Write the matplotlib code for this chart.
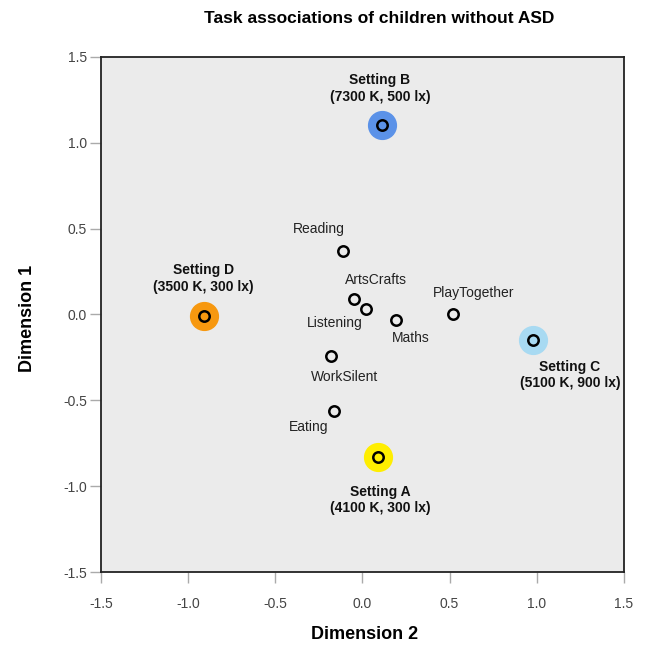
import numpy as np
import matplotlib.pyplot as plt

plt.rcParams['font.family'] = ['Liberation Sans', 'DejaVu Sans']

# task points (Dimension 2 on x, Dimension 1 on y)
tasks = ["Reading", "ArtsCrafts", "Listening", "Maths", "PlayTogether", "WorkSilent", "Eating"]
task_x = [-0.11, -0.05, 0.02, 0.19, 0.52, -0.18, -0.165]
task_y = [0.37, 0.09, 0.03, -0.03, 0.00, -0.24, -0.56]
task_lx = [-0.25, 0.08, -0.16, 0.28, 0.635, -0.10, -0.31]
task_ly = [0.50, 0.20, -0.05, -0.135, 0.125, -0.365, -0.655]

# lighting settings
settings = ["Setting A\n(4100 K, 300 lx)", "Setting B\n(7300 K, 500 lx)",
            "Setting C\n(5100 K, 900 lx)", "Setting D\n(3500 K, 300 lx)"]
set_x = [0.09, 0.11, 0.98, -0.91]
set_y = [-0.83, 1.10, -0.15, -0.01]
set_lx = [0.10, 0.10, 1.19, -0.91]
set_ly = [-1.08, 1.316, -0.353, 0.21]
set_col = ["#FFEE00", "#5B92E8", "#A8DAF2", "#F7980F"]

ticks = [-1.5, -1.0, -0.5, 0.0, 0.5, 1.0, 1.5]

fig = plt.figure(figsize=(6.46, 6.45), dpi=100)
ax = fig.add_axes([0.156, 0.113, 0.81, 0.799])
ax.set_facecolor("#EBEBEB")

for x, y, c in zip(set_x, set_y, set_col):
    ax.plot(x, y, 'o', ms=20, color=c, mec=c, zorder=2)
    ax.plot(x, y, 'o', ms=7.5, mfc=c, mec='black', mew=1.8, zorder=3)

ax.plot(task_x, task_y, 'o', ms=7.5, mfc='none', mec='black', mew=1.8, ls='none', zorder=3)

for t, x, y in zip(tasks, task_lx, task_ly):
    ax.text(x, y, t, ha='center', va='center', fontsize=10, color='#222222')
for t, x, y in zip(settings, set_lx, set_ly):
    ax.text(x, y, t, ha='center', va='center', fontsize=10, fontweight='bold',
            color='#111111', linespacing=1.25)

ax.set_xlim(-1.5, 1.5)
ax.set_ylim(-1.5, 1.5)
ax.set_xticks(ticks)
ax.set_yticks(ticks)
ax.set_xticklabels([f"{t:.1f}" for t in ticks])
ax.set_yticklabels([f"{t:.1f}" for t in ticks])
ax.tick_params(axis='x', length=8, width=1, color='#AAAAAA', pad=10, labelsize=10, labelcolor='#444444')
ax.tick_params(axis='y', length=8, width=1, color='#AAAAAA', pad=2, labelsize=10, labelcolor='#444444')
for s in ax.spines.values():
    s.set_color('#222222')
    s.set_linewidth(1.3)

fig.text(0.587, 0.971, "Task associations of children without ASD", ha='center', va='center',
         fontsize=12.5, fontweight='bold')
fig.text(0.565, 0.016, "Dimension 2", ha='center', va='center', fontsize=13, fontweight='bold')
fig.text(0.043, 0.507, "Dimension 1", ha='center', va='center', fontsize=13, fontweight='bold',
         rotation=90)

fig.savefig("out.png", dpi=100)
